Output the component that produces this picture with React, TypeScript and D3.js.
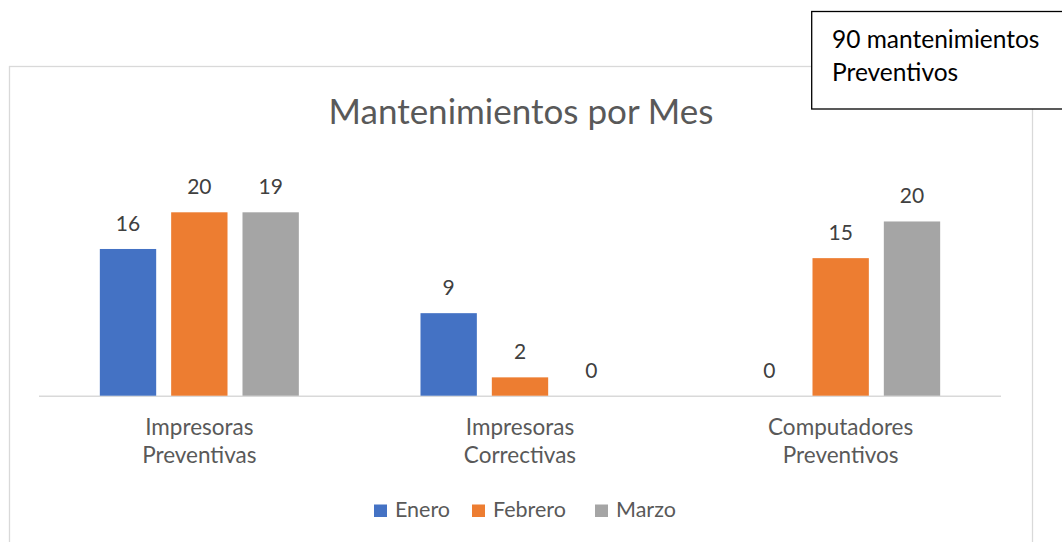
import React from 'react';
import * as d3 from 'd3';

const categories = ['Impresoras Preventivas', 'Impresoras Correctivas', 'Computadores Preventivos'];
const series = ['Enero', 'Febrero', 'Marzo'];
// bar heights as drawn in the picture
const enero = [16, 9, 0];
const febrero = [20, 2, 15];
const marzo = [20, 0, 19];
// data labels as printed above the bars
const eneroLabels = ['16', '9', '0'];
const febreroLabels = ['20', '2', '15'];
const marzoLabels = ['19', '0', '20'];
const colors = ['#4472c4', '#ed7d31', '#a5a5a5'];
const title = 'Mantenimientos por Mes';
const noteLines = ['90 mantenimientos', 'Preventivos'];

const width = 1062;
const height = 542;
const plot = { left: 39, right: 1001, base: 395.7 };
const font = 'Lato, "Open Sans", sans-serif';

const App = () => {
  const values = [enero, febrero, marzo];
  const labels = [eneroLabels, febreroLabels, marzoLabels];

  const x0 = d3
    .scaleBand()
    .domain(categories)
    .range([plot.left, plot.right])
    .paddingInner(0.3794)
    .paddingOuter(0.1897);

  const x1 = d3
    .scaleBand()
    .domain(series)
    .range([0, x0.bandwidth()])
    .paddingInner(0.21);

  const y = d3
    .scaleLinear()
    .domain([0, 24])
    .range([plot.base, plot.base - 24 * 9.17]);

  const legendX = [374, 472, 595];

  return (
    <svg
      width={width}
      height={height}
      style={{ position: 'absolute', left: 0, top: 0, background: '#fff' }}
      fontFamily={font}
    >
      <rect x={9.5} y={66.5} width={1023} height={520} fill='#fff' stroke='#d9d9d9' strokeWidth={1.3} />

      <text x={521} y={124} textAnchor='middle' fontSize={35} fill='#595959'>
        {title}
      </text>

      <line x1={plot.left} x2={plot.right} y1={plot.base + 0.5} y2={plot.base + 0.5} stroke='#d9d9d9' strokeWidth={1.5} />

      {categories.map((c, ci) => (
        <g key={c}>
          {series.map((s, si) => {
            const v = values[si][ci];
            const bx = (x0(c) ?? 0) + (x1(s) ?? 0);
            return (
              <g key={s}>
                {v > 0 && (
                  <rect x={bx} y={y(v)} width={x1.bandwidth()} height={plot.base - y(v)} fill={colors[si]} />
                )}
                <text
                  x={bx + x1.bandwidth() / 2}
                  y={y(v) - 18}
                  textAnchor='middle'
                  fontSize={21}
                  fill='#404040'
                >
                  {labels[si][ci]}
                </text>
              </g>
            );
          })}
          <text textAnchor='middle' fontSize={22.5} fill='#595959'>
            {c.split(' ').map((w, wi) => (
              <tspan key={wi} x={(x0(c) ?? 0) + x0.bandwidth() / 2} y={435 + wi * 28}>
                {w}
              </tspan>
            ))}
          </text>
        </g>
      ))}

      {series.map((s, si) => (
        <g key={s} transform={`translate(${legendX[si]},0)`}>
          <rect x={0} y={504.5} width={13} height={12.5} fill={colors[si]} />
          <text x={21} y={517} fontSize={21.5} fill='#595959'>
            {s}
          </text>
        </g>
      ))}

      <rect x={811.7} y={11.5} width={300} height={97.5} fill='#fff' stroke='#000' strokeWidth={1.3} />
      {noteLines.map((t, i) => (
        <text key={t} x={832} y={48 + i * 33} fontSize={24.5} fill='#000'>
          {t}
        </text>
      ))}
    </svg>
  );
};

export default App;
